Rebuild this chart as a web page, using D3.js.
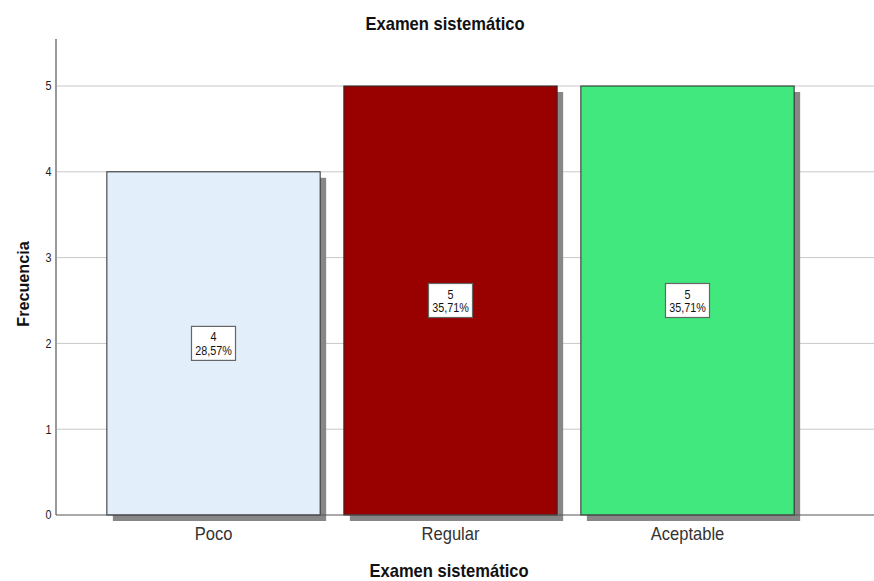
<!DOCTYPE html>
<html>
<head>
<meta charset="utf-8">
<script src="https://cdn.jsdelivr.net/npm/d3@7"></script>
<style>
  body { margin: 0; background: #fff; }
  svg { display: block; }
  text { font-family: "Liberation Sans", Arial, sans-serif; fill: #111; }
</style>
</head>
<body>
<svg id="chart" width="874" height="581"></svg>
<script>
const categories = ["Poco", "Regular", "Aceptable"];
const counts = [4, 5, 5];
const percents = ["28,57%", "35,71%", "35,71%"];
const colors = ["#e2eefa", "#990000", "#41e87d"];
const yTicks = [0, 1, 2, 3, 4, 5];

const svg = d3.select("#chart");
const W = 874, H = 581;
const axisLeft = 56, baseY = 515, topY = 39;
const narrow = "scale(0.9,1)";

const x = d3.scaleBand().domain(categories).range([95, 806]).paddingInner(0.1).paddingOuter(0.05);
const y = d3.scaleLinear().domain([0, 5]).range([baseY, 86]);

// horizontal gridlines
svg.append("g").selectAll("line").data(yTicks.filter(d => d > 0)).join("line")
  .attr("x1", axisLeft).attr("x2", W)
  .attr("y1", d => y(d)).attr("y2", d => y(d))
  .attr("stroke", "#c8c8c8").attr("stroke-width", 1);

// bar shadows
const off = 6;
svg.append("g").selectAll("rect").data(categories).join("rect")
  .attr("x", d => x(d) + off)
  .attr("y", (d, i) => y(counts[i]) + off)
  .attr("width", x.bandwidth())
  .attr("height", (d, i) => baseY - y(counts[i]))
  .attr("fill", "#878787");

// bars
svg.append("g").selectAll("rect").data(categories).join("rect")
  .attr("x", d => x(d))
  .attr("y", (d, i) => y(counts[i]))
  .attr("width", x.bandwidth())
  .attr("height", (d, i) => baseY - y(counts[i]))
  .attr("fill", (d, i) => colors[i])
  .attr("stroke", "#2a2a2a").attr("stroke-width", 1);

// axes
const yAxis = d3.axisLeft(y).tickValues(yTicks).tickSize(0).tickPadding(5).tickFormat(d3.format("d"));
const gy = svg.append("g").attr("transform", `translate(${axisLeft},0)`).call(yAxis);
gy.select(".domain").remove();
gy.selectAll("text").attr("font-size", 12).attr("transform", narrow).style("fill", "#222");
svg.append("line").attr("x1", axisLeft).attr("x2", axisLeft).attr("y1", topY).attr("y2", baseY)
  .attr("stroke", "#999").attr("stroke-width", 2);
svg.append("line").attr("x1", axisLeft).attr("x2", W).attr("y1", baseY).attr("y2", baseY)
  .attr("stroke", "#555").attr("stroke-width", 1.2);

const xAxis = d3.axisBottom(x).tickSize(0).tickPadding(12);
const gx = svg.append("g").attr("transform", `translate(0,${baseY})`).call(xAxis);
gx.select(".domain").remove();
gx.selectAll("text").attr("font-size", 18).attr("transform", "scale(0.92,1)").style("fill", "#333");

// value labels: count and percentage in a small boxed callout
const lab = svg.append("g").selectAll("g").data(categories).join("g")
  .attr("transform", (d, i) => `translate(${x(d) + x.bandwidth() / 2},${y(counts[i] / 2)})`);
lab.append("rect").attr("x", -22).attr("y", -17).attr("width", 44).attr("height", 34)
  .attr("fill", "#fff").attr("stroke", "#666").attr("stroke-width", 1.2);
lab.append("text").attr("text-anchor", "middle").attr("y", -2).attr("font-size", 12)
  .attr("transform", narrow).text((d, i) => counts[i]);
lab.append("text").attr("text-anchor", "middle").attr("y", 12).attr("font-size", 12)
  .attr("transform", narrow).text((d, i) => percents[i]);

// titles
svg.append("text").attr("transform", "translate(445,30) scale(0.92,1)").attr("text-anchor", "middle")
  .attr("font-size", 18).attr("font-weight", "bold").text("Examen sistemático");
svg.append("text").attr("transform", "translate(449,577) scale(0.92,1)").attr("text-anchor", "middle")
  .attr("font-size", 18).attr("font-weight", "bold").text("Examen sistemático");
svg.append("text").attr("transform", "translate(29,284) rotate(-90) scale(0.95,1)").attr("text-anchor", "middle")
  .attr("font-size", 17).attr("font-weight", "bold").text("Frecuencia");
</script>
</body>
</html>
